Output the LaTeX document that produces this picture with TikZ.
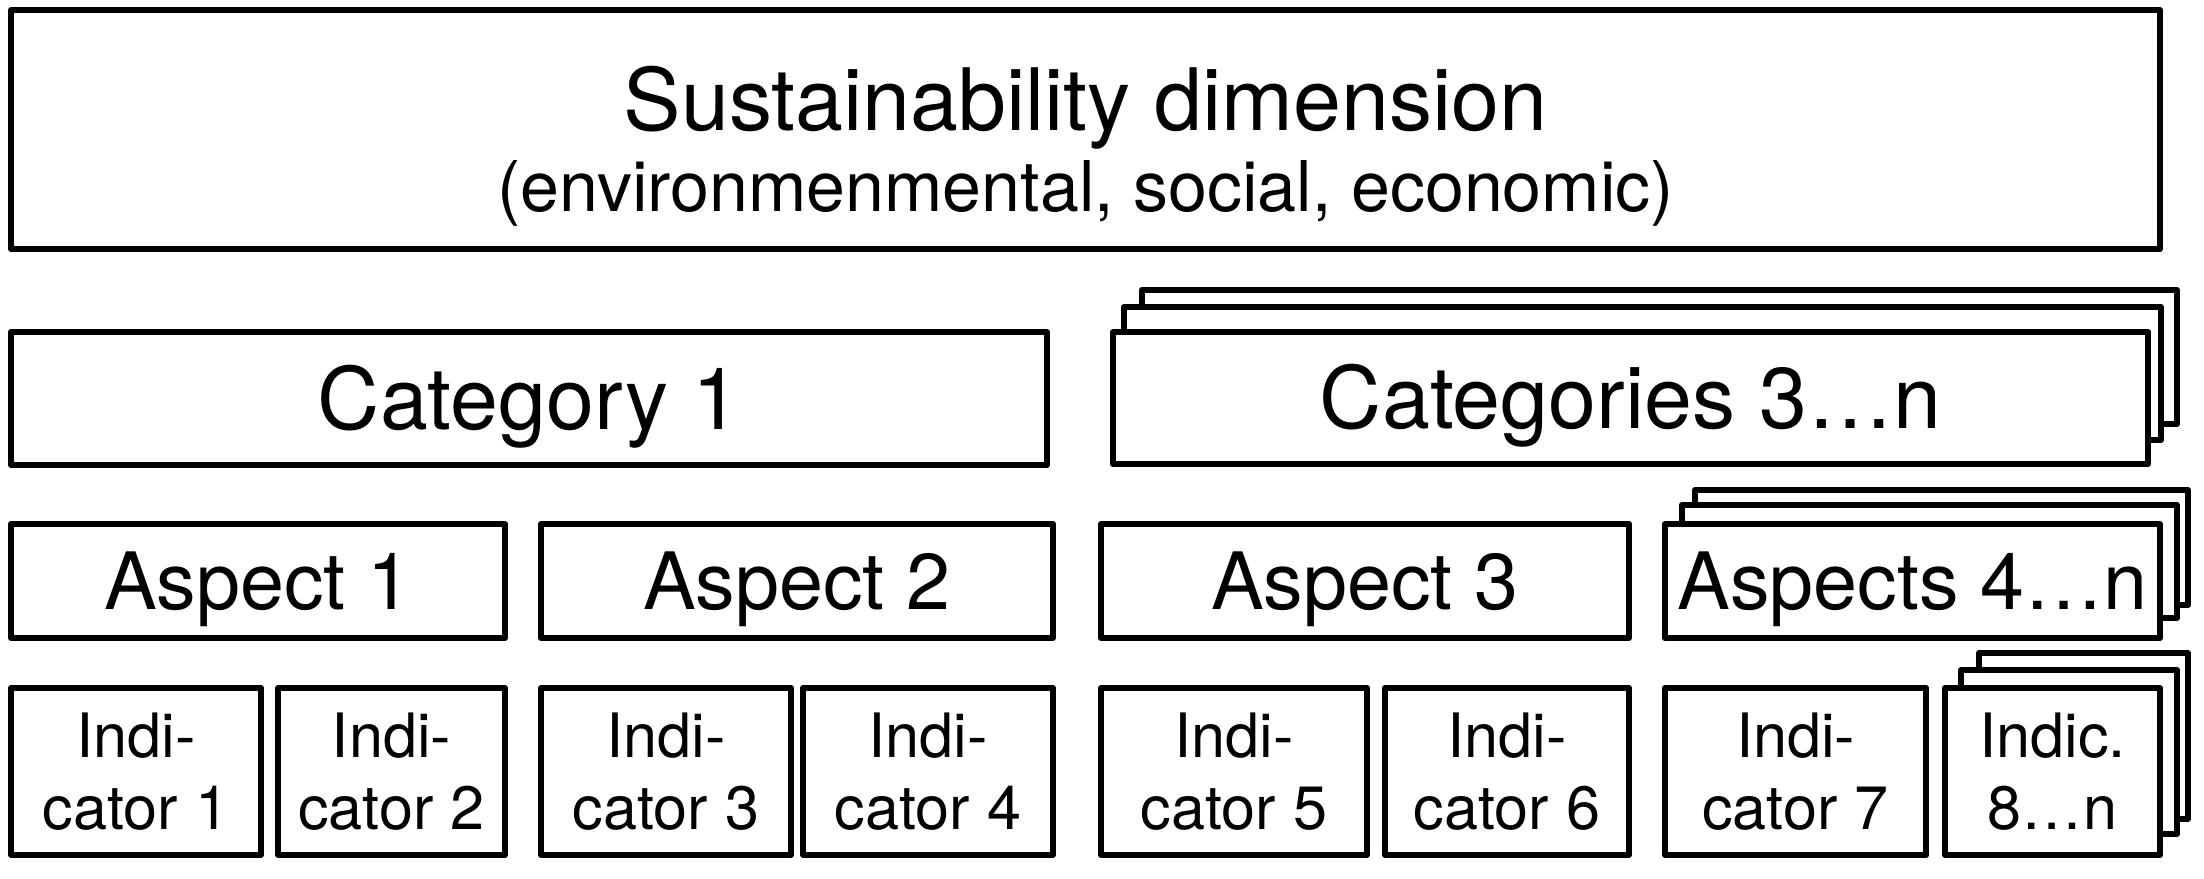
\documentclass[tikz,border=0pt]{standalone}
\usepackage{fontspec}
\setmainfont{TeX Gyre Heros}
\tikzset{
  box/.style={draw, line width=0.06cm, fill=white, inner sep=0pt, line join=round, align=center},
  fcat/.style={font=\fontsize{24.5}{29}\selectfont, text height=17.6pt, text depth=0pt},
  fasp/.style={font=\fontsize{22.5}{27}\selectfont, text height=16.2pt, text depth=0pt},
  find/.style={font=\fontsize{17.4}{20.5}\selectfont},
  ftitle/.style={font=\fontsize{24.5}{29}\selectfont, inner sep=0pt, anchor=base},
  fsub/.style={font=\fontsize{19.9}{23}\selectfont, inner sep=0pt, anchor=base},
}
% #1 options, #2 name, #3 x1, #4 y1, #5 x2, #6 y2 (outer edges, px), #7 text
\newcommand\obox[7][]{\node[box,#1,minimum width={(#5-#3-6)*0.01cm},minimum height={(#6-#4-6)*0.01cm}] (#2) at ({(#3+#5)/2},{(#4+#6)/2}) {#7};}
\begin{document}
\begin{tikzpicture}[x=0.01cm,y=-0.01cm]
\useasboundingbox (0,0) rectangle (2204,878);
% top
\obox{dim}{8}{7}{2163}{252}{}
\node[ftitle] (dimtitle) at (1085.5,130) {Sustainability dimension};
\node[fsub] (dimsub) at (1085.5,211) {(environmenmental, social, economic)};
% categories
\obox[fcat]{cat1}{8}{329}{1050}{468}{Category 1}
\obox{catc}{1139}{287}{2180}{427}{}
\obox{catb}{1121}{304}{2164}{443}{}
\obox[fcat]{cat3}{1110}{329}{2151}{467}{Categories 3…n}
% aspects
\obox[fasp]{asp1}{8}{521}{508}{641}{Aspect 1}
\obox[fasp]{asp2}{538}{521}{1056}{641}{Aspect 2}
\obox[fasp]{asp3}{1098}{521}{1632}{641}{Aspect 3}
\obox{aspc}{1692}{487}{2191}{608}{}
\obox{aspb}{1679}{502}{2180}{621}{}
\obox[fasp]{asp4}{1662}{521}{2163}{641}{Aspects 4…n}
% indicators
\obox[find]{ind1}{8}{685}{264}{858}{Indi-\\cator 1}
\obox[find]{ind2}{275}{685}{508}{858}{Indi-\\cator 2}
\obox[find]{ind3}{538}{685}{794}{858}{Indi-\\cator 3}
\obox[find]{ind4}{800}{685}{1056}{858}{Indi-\\cator 4}
\obox[find]{ind5}{1098}{685}{1370}{858}{Indi-\\cator 5}
\obox[find]{ind6}{1382}{685}{1632}{858}{Indi-\\cator 6}
\obox[find]{ind7}{1662}{685}{1929}{858}{Indi-\\cator 7}
\obox{indc}{1976}{650}{2191}{822}{}
\obox{indb}{1958}{667}{2180}{837}{}
\obox[find]{ind8}{1942}{685}{2163}{858}{Indic.\\8…n}
\end{tikzpicture}
\end{document}
